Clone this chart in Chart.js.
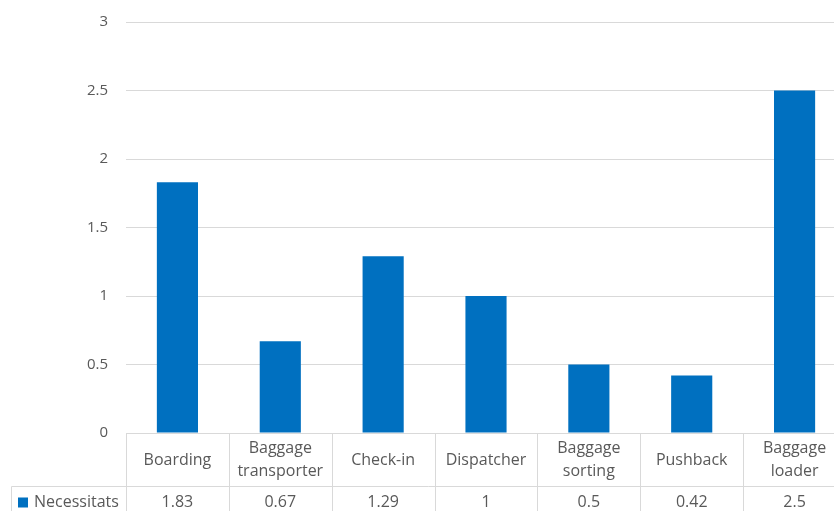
<!DOCTYPE html>
<html>
<head>
<meta charset="utf-8">
<script src="https://cdn.jsdelivr.net/npm/chart.js@4/dist/chart.umd.min.js"></script>
<style>
  html, body { margin: 0; padding: 0; background: #fff; overflow: hidden; }
  #wrap { width: 848px; height: 511px; }
</style>
</head>
<body>
<div id="wrap"><canvas id="necChart" width="848" height="511"></canvas></div>
<script>
// chart data
const categories = [
    ['Boarding'],
    ['Baggage', 'transporter'],
    ['Check-in'],
    ['Dispatcher'],
    ['Baggage', 'sorting'],
    ['Pushback'],
    ['Baggage', 'loader']
];
const seriesName = 'Necessitats';
const necessitats = [1.83, 0.67, 1.29, 1, 0.5, 0.42, 2.5];
const tableValues = ['1.83', '0.67', '1.29', '1', '0.5', '0.42', '2.5'];

const barColor = '#0070C0';
const lineColor = '#d9d9d9';
const textColor = '#595959';
const fontFamily = "'Open Sans', 'Noto Sans', sans-serif";

// draws the Excel style data table under the plot
const dataTable = {
    id: 'dataTable',
    afterDraw(chart) {
        const ctx = chart.ctx;
        const x = chart.scales.x;
        const area = chart.chartArea;
        const colW = x.width / categories.length;
        const top = Math.round(area.bottom) + 0.5;
        const mid = top + 53;
        const bottom = chart.height + 2;
        const legendLeft = 11.5;

        ctx.save();
        ctx.strokeStyle = lineColor;
        ctx.lineWidth = 1;
        ctx.beginPath();
        ctx.moveTo(x.left, top); ctx.lineTo(x.right, top);
        ctx.moveTo(legendLeft, mid); ctx.lineTo(x.right, mid);
        ctx.moveTo(legendLeft, mid); ctx.lineTo(legendLeft, bottom);
        for (let i = 0; i <= categories.length; i++) {
            const px = Math.round(x.left + i * colW) + 0.5;
            ctx.moveTo(px, top); ctx.lineTo(px, bottom);
        }
        ctx.stroke();

        ctx.fillStyle = textColor;
        ctx.font = '16px ' + fontFamily;
        ctx.textAlign = 'center';
        ctx.textBaseline = 'middle';
        categories.forEach((lines, i) => {
            const cx = x.getPixelForValue(i);
            const cy = (top + mid) / 2;
            const lh = 23;
            lines.forEach((ln, j) => {
                ctx.fillText(ln, cx, cy + (j - (lines.length - 1) / 2) * lh);
            });
            ctx.fillText(tableValues[i], cx, mid + 16);
        });

        // legend key in the table
        ctx.fillStyle = barColor;
        ctx.fillRect(18, mid + 11, 10, 10);
        ctx.fillStyle = textColor;
        ctx.textAlign = 'left';
        ctx.fillText(seriesName, 34, mid + 16);
        ctx.restore();
    }
};

new Chart(document.getElementById('necChart').getContext('2d'), {
    type: 'bar',
    data: {
        labels: categories,
        datasets: [{
            label: seriesName,
            data: necessitats,
            backgroundColor: barColor,
            borderWidth: 0,
            barPercentage: 0.4,
            categoryPercentage: 1.0
        }]
    },
    options: {
        responsive: false,
        animation: false,
        layout: { padding: { top: 22, right: 2, bottom: 78, left: 0 } },
        plugins: {
            legend: { display: false },
            tooltip: { enabled: false }
        },
        scales: {
            x: {
                display: false
            },
            y: {
                min: 0,
                max: 3,
                afterFit(scale) {
                    scale.width = 126;
                    scale.paddingTop = 0;
                    scale.paddingBottom = 0;
                },
                ticks: {
                    stepSize: 0.5,
                    padding: 18,
                    color: textColor,
                    font: { family: fontFamily, size: 15 },
                    callback: (v) => String(v)
                },
                border: { display: false },
                grid: { color: lineColor, drawTicks: false }
            }
        }
    },
    plugins: [dataTable]
});
</script>
</body>
</html>
